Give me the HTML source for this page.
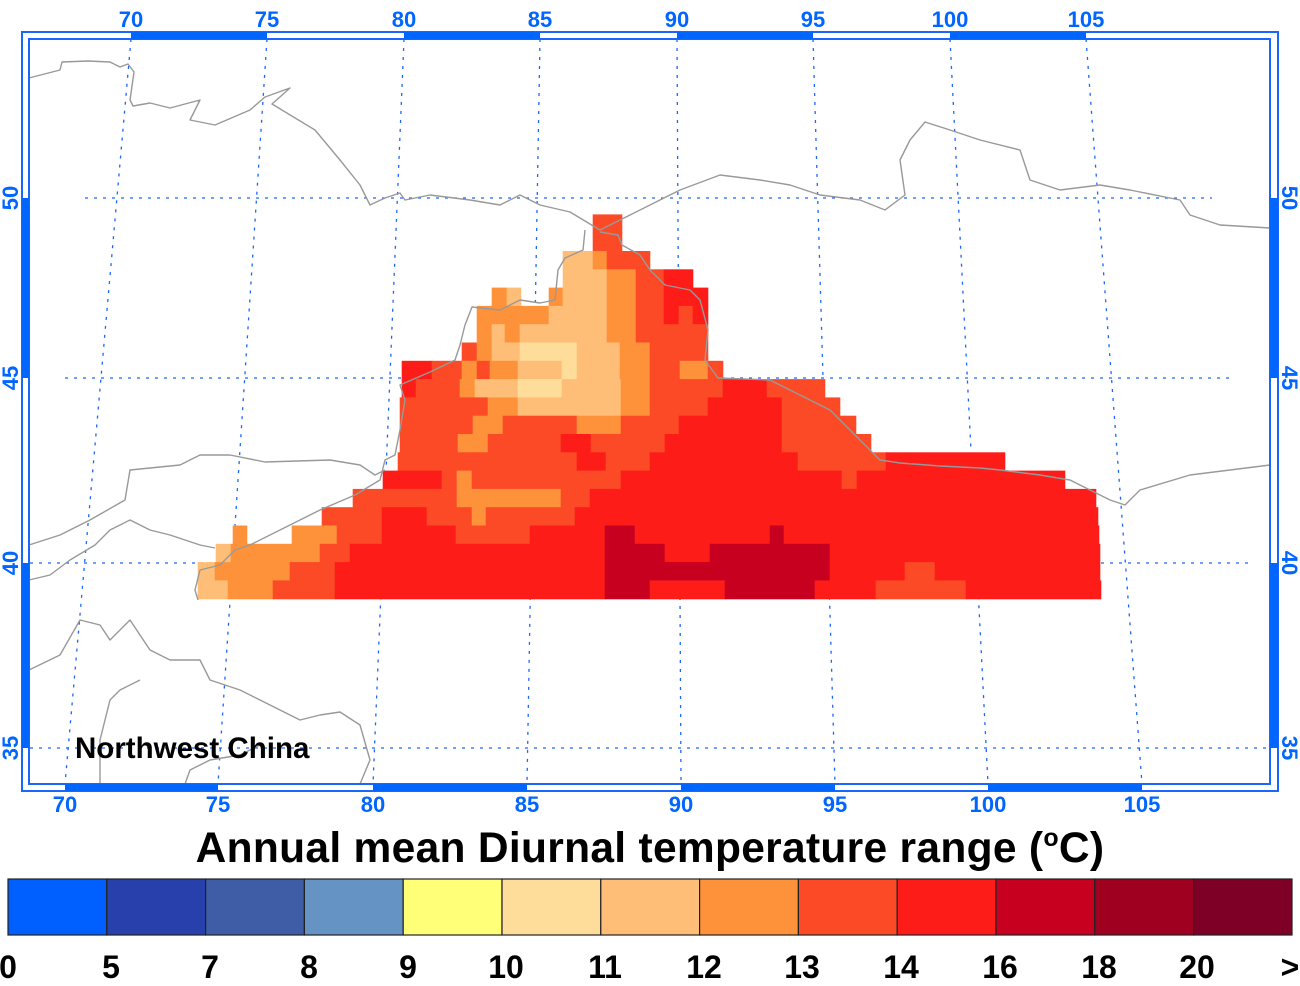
<!DOCTYPE html>
<html><head><meta charset="utf-8"><style>
html,body{margin:0;padding:0;background:#fff;}
svg{display:block;}
text{font-family:"Liberation Sans",sans-serif;font-weight:bold;}
</style></head><body>
<svg id="s" width="1300" height="986" viewBox="0 0 1300 986" xmlns="http://www.w3.org/2000/svg">
<rect width="1300" height="986" fill="#fff"/>
<g stroke="#1a66ff" stroke-width="1.3" stroke-dasharray="3,6" fill="none">
<line x1="85" y1="198" x2="1212" y2="198"/>
<line x1="65" y1="378" x2="1235" y2="378"/>
<line x1="30" y1="563" x2="1250" y2="563"/>
<line x1="30" y1="748" x2="1270" y2="748"/>
<line x1="131" y1="39" x2="65" y2="784"/>
<line x1="267" y1="39" x2="218" y2="784"/>
<line x1="404" y1="39" x2="373" y2="784"/>
<line x1="540" y1="39" x2="527" y2="784"/>
<line x1="677" y1="39" x2="681" y2="784"/>
<line x1="813" y1="39" x2="835" y2="784"/>
<line x1="950" y1="39" x2="988" y2="784"/>
<line x1="1086" y1="39" x2="1142" y2="784"/>
</g>
<g id="data"></g>
<g stroke="#999" stroke-width="1.4" fill="none" stroke-linejoin="round">
<polyline points="29,78 60,70 62,62 88,61 110,62 120,67 128,64 134,72 130,100 133,106 150,103 170,108 200,100 190,120 215,125 250,110 265,97 290,88 272,104 315,130 340,160 360,185 370,205 385,198 400,193 405,200 430,195 470,200 500,205 520,195 540,205 570,212 600,230 630,215 660,200 680,190 720,175 760,180 790,185 820,195 860,200 885,210 905,195 900,160 910,140 925,122 950,130 980,140 1020,150 1030,180 1060,190 1100,185 1130,190 1180,200 1190,215 1220,225 1270,228"/>
<polyline points="585,230 583,250 565,258 558,270 555,300 540,303 520,300 500,310 472,307 465,325 460,345 455,360 430,372 400,385 405,400 400,430 395,455 385,460 380,480 355,495 320,510 290,525 250,545 235,550 220,565 200,570 195,590 198,600"/>
<polyline points="600,232 618,235 622,245 640,255 650,270 665,285 690,290 700,300 708,330 705,360 718,378 770,380 800,395 830,410 860,440 880,460 900,463 940,466 980,468 1000,470 1040,475 1070,480 1090,490 1110,500 1125,505 1140,490 1190,475 1230,470 1270,465"/>
<polyline points="29,545 60,535 90,520 125,500 130,470 180,465 200,455 230,455 265,462 330,460 360,465 375,475 385,470"/>
<polyline points="29,580 50,575 70,560 95,545 110,530 130,520 150,530 170,535 200,545 215,548"/>
<polyline points="29,670 60,655 80,620 100,625 110,640 130,620 150,650 170,660 200,660 210,680 240,690 260,700 300,720 320,715 340,712 360,725 370,760 360,784"/>
<polyline points="100,784 100,740 110,700 120,690 140,680"/>
<polyline points="185,784 190,770 210,760 240,755 260,745"/>
</g>
<g fill="none" stroke="#1a66ff" stroke-width="2">
<rect x="22" y="32" width="1256" height="759"/>
<rect x="29" y="39" width="1241" height="745"/>
</g>
<g fill="#0066ff">
<rect x="131" y="32" width="136" height="7"/><rect x="404" y="32" width="136" height="7"/>
<rect x="677" y="32" width="136" height="7"/><rect x="950" y="32" width="136" height="7"/>
<rect x="65" y="784" width="153" height="7"/><rect x="373" y="784" width="154" height="7"/>
<rect x="681" y="784" width="154" height="7"/><rect x="988" y="784" width="154" height="7"/>
<rect x="22" y="198" width="7" height="180"/><rect x="22" y="563" width="7" height="185"/>
<rect x="1270" y="198" width="8" height="180"/><rect x="1270" y="563" width="8" height="185"/>
</g>
<g fill="#0066ff" font-size="22" text-anchor="middle">
<text x="131" y="27">70</text><text x="267" y="27">75</text><text x="404" y="27">80</text><text x="540" y="27">85</text>
<text x="677" y="27">90</text><text x="813" y="27">95</text><text x="950" y="27">100</text><text x="1086" y="27">105</text>
<text x="65" y="812">70</text><text x="218" y="812">75</text><text x="373" y="812">80</text><text x="527" y="812">85</text>
<text x="681" y="812">90</text><text x="835" y="812">95</text><text x="988" y="812">100</text><text x="1142" y="812">105</text>
<text transform="translate(18,198) rotate(-90)">50</text><text transform="translate(18,378) rotate(-90)">45</text>
<text transform="translate(18,563) rotate(-90)">40</text><text transform="translate(18,748) rotate(-90)">35</text>
<text transform="translate(1282,198) rotate(90)">50</text><text transform="translate(1282,378) rotate(90)">45</text>
<text transform="translate(1282,563) rotate(90)">40</text><text transform="translate(1282,748) rotate(90)">35</text>
</g>
<text x="75" y="758" font-size="29.5" fill="#000">Northwest China</text>
<text x="650" y="862" font-size="42.5" fill="#000" text-anchor="middle" letter-spacing="0.3">Annual mean Diurnal temperature range (<tspan font-size="25" dy="-16">o</tspan><tspan dy="16">C)</tspan></text>
<g stroke="#222" stroke-width="1.2">
<rect x="8" y="879" width="98.8" height="56" fill="#0060ff"/>
<rect x="106.8" y="879" width="98.8" height="56" fill="#2840ac"/>
<rect x="205.6" y="879" width="98.8" height="56" fill="#3f5ca6"/>
<rect x="304.4" y="879" width="98.8" height="56" fill="#6594c4"/>
<rect x="403.2" y="879" width="98.8" height="56" fill="#ffff78"/>
<rect x="502" y="879" width="98.8" height="56" fill="#fedd9a"/>
<rect x="600.8" y="879" width="98.8" height="56" fill="#ffbe78"/>
<rect x="699.6" y="879" width="98.8" height="56" fill="#fe923a"/>
<rect x="798.4" y="879" width="98.8" height="56" fill="#fc4a26"/>
<rect x="897.2" y="879" width="98.8" height="56" fill="#fe1c18"/>
<rect x="996" y="879" width="98.8" height="56" fill="#c8001f"/>
<rect x="1094.8" y="879" width="98.8" height="56" fill="#a00020"/>
<rect x="1193.6" y="879" width="98.4" height="56" fill="#7f0026"/>
</g>
<g font-size="32" fill="#000" text-anchor="middle">
<text x="8" y="978">0</text><text x="111" y="978">5</text><text x="210" y="978">7</text><text x="309" y="978">8</text>
<text x="408" y="978">9</text><text x="506" y="978">10</text><text x="605" y="978">11</text><text x="704" y="978">12</text>
<text x="802" y="978">13</text><text x="901" y="978">14</text><text x="1000" y="978">16</text><text x="1099" y="978">18</text>
<text x="1197" y="978">20</text><text x="1290" y="978">&gt;</text>
</g>
</svg>
<script>
var C={a:"#fedd9a",b:"#ffbe78",c:"#fe923a",d:"#fc4a26",e:"#fe1c18",f:"#c8001f"};
var R=[
"d593-622",
"d593-622",
"b563-593 c593-607 d607-650",
"b563-607 c607-636 d636-664 e664-693",
"c492-507 b507-521 c549-563 b563-607 c607-636 d636-664 e664-708",
"c477-549 b549-607 c607-636 d636-664 e664-679 d679-693 e693-708",
"c477-492 b492-505 c505-520 b520-607 c607-636 d636-708",
"d462-477 c477-492 b492-520 a520-577 b577-620 c620-650 d650-708",
"e402-432 d432-462 c462-477 d477-490 c490-518 b518-562 a562-577 b577-620 c620-650 d650-680 c680-708 d708-723",
"e402-416 d416-460 c460-475 b475-518 a518-562 b562-621 c621-650 d650-723 e723-767 d767-825",
"d400-488 c488-518 b518-621 c621-650 d650-708 e708-782 d782-840",
"d400-473 c473-503 d503-577 c577-621 d621-679 e679-782 d782-856",
"d400-458 c458-488 d488-561 e561-591 d591-665 e665-782 d782-871",
"d398-577 e577-606 d606-650 e650-798 d798-886 e886-1005",
"e383-442 d442-457 c457-472 d472-621 e621-842 d842-857 e857-1065",
"d353-457 c457-561 d561-590 e590-1096",
"d322-382 e382-427 d427-472 c472-486 d486-575 e575-1098",
"c233-247 c292-337 d337-382 e382-456 d456-530 e530-605 f605-635 e635-770 f770-784 e784-1099",
"b216-231 c231-320 d320-350 e350-605 f605-665 e665-710 f710-830 e830-1100",
"b198-215 c215-290 d290-335 e335-605 f605-830 e830-905 d905-935 e935-1100",
"b198-228 c228-273 d273-335 e335-605 f605-650 e650-725 f725-815 e815-876 d876-966 e966-1101"];
var g=document.getElementById("data"),ns="http://www.w3.org/2000/svg";
R.forEach(function(row,r){var y=214.7+18.3*r;row.split(" ").forEach(function(t){
var k=t[0],p=t.slice(1).split("-"),x0=+p[0],x1=+p[1];
var e=document.createElementNS(ns,"rect");e.setAttribute("x",x0-0.3);e.setAttribute("y",y-0.3);
e.setAttribute("width",x1-x0+0.6);e.setAttribute("height",18.9);e.setAttribute("fill",C[k]);g.appendChild(e);});});
</script>
</body></html>
